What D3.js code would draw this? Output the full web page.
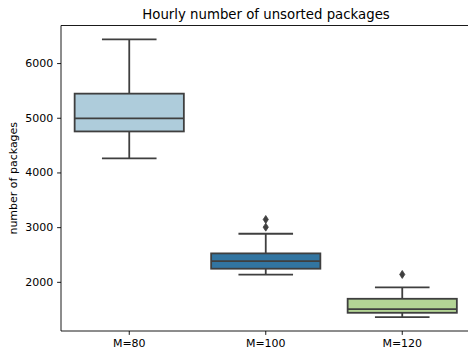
<!DOCTYPE html>
<html><head><meta charset="utf-8">
<script src="https://cdn.jsdelivr.net/npm/d3@7"></script>
<style>body{margin:0;background:#fff}svg{display:block}text{font-family:"DejaVu Sans",sans-serif}</style>
</head><body>
<svg id="c" width="468" height="353"></svg>
<script>
const categories = ["M=80", "M=100", "M=120"];
const whiskerLow = [4256, 2131, 1355];
const q1 = [4750, 2240, 1434];
const median = [4987, 2379, 1501];
const q3 = [5441, 2520, 1690];
const whiskerHigh = [6433, 2879, 1898];
const outliers = [[], [3140, 3000], [2135]];
const colors = ["#aeccdb", "#3275a1", "#b3d495"];
const yTicks = [2000, 3000, 4000, 5000, 6000];

const svg = d3.select("#c");
const L = 61, R = 470.5, T = 25.5, B = 331;
const x = d3.scaleBand().domain(categories).range([L, R]);
const y = d3.scaleLinear().domain([1101, 6687]).range([B, T]);
const gray = "#3f3f3f";

const g = svg.append("g");
categories.forEach((c, i) => {
  const cx = x(c) + x.bandwidth() / 2;
  const bw = x.bandwidth() * 0.8;
  const cw = bw / 2;
  g.append("line").attr("x1", cx).attr("x2", cx).attr("y1", y(q3[i])).attr("y2", y(whiskerHigh[i])).attr("stroke", gray).attr("stroke-width", 1.8);
  g.append("line").attr("x1", cx).attr("x2", cx).attr("y1", y(q1[i])).attr("y2", y(whiskerLow[i])).attr("stroke", gray).attr("stroke-width", 1.8);
  g.append("line").attr("x1", cx - cw / 2).attr("x2", cx + cw / 2).attr("y1", y(whiskerHigh[i])).attr("y2", y(whiskerHigh[i])).attr("stroke", gray).attr("stroke-width", 1.8);
  g.append("line").attr("x1", cx - cw / 2).attr("x2", cx + cw / 2).attr("y1", y(whiskerLow[i])).attr("y2", y(whiskerLow[i])).attr("stroke", gray).attr("stroke-width", 1.8);
  g.append("rect").attr("x", cx - bw / 2).attr("width", bw).attr("y", y(q3[i])).attr("height", y(q1[i]) - y(q3[i]))
    .attr("fill", colors[i]).attr("stroke", gray).attr("stroke-width", 1.8);
  g.append("line").attr("x1", cx - bw / 2).attr("x2", cx + bw / 2).attr("y1", y(median[i])).attr("y2", y(median[i])).attr("stroke", gray).attr("stroke-width", 1.8);
  outliers[i].forEach(v => {
    const py = y(v);
    g.append("path").attr("d", `M${cx},${py - 4} L${cx + 2.6},${py} L${cx},${py + 4} L${cx - 2.6},${py} Z`).attr("fill", gray).attr("stroke", gray).attr("stroke-width", 0.8);
  });
});

const yAxis = svg.append("g").attr("transform", `translate(${L},0)`)
  .call(d3.axisLeft(y).tickValues(yTicks).tickSize(3.9).tickPadding(3.9).tickFormat(d3.format("d")));
const xAxis = svg.append("g").attr("transform", `translate(0,${B})`)
  .call(d3.axisBottom(x).tickSize(3.9).tickPadding(3.9));
[yAxis, xAxis].forEach(a => {
  a.selectAll("text").attr("font-size", 11).attr("fill", "#000").style("font-family", "DejaVu Sans");
  a.selectAll("line").attr("stroke", "#000").attr("stroke-width", 0.9);
  a.select(".domain").remove();
});
svg.append("line").attr("x1", L).attr("x2", L).attr("y1", T).attr("y2", B).attr("stroke", "#000").attr("stroke-width", 0.9);
svg.append("line").attr("x1", L).attr("x2", R).attr("y1", B).attr("y2", B).attr("stroke", "#000").attr("stroke-width", 0.9);
svg.append("line").attr("x1", L).attr("x2", R).attr("y1", T).attr("y2", T).attr("stroke", "#000").attr("stroke-width", 0.9);

svg.append("text").attr("x", 266).attr("y", 19).attr("text-anchor", "middle").attr("font-size", 13.3).text("Hourly number of unsorted packages");
svg.append("text").attr("transform", `translate(16.5,${(T + B) / 2}) rotate(-90)`).attr("text-anchor", "middle").attr("font-size", 11).text("number of packages");
</script>
</body></html>
